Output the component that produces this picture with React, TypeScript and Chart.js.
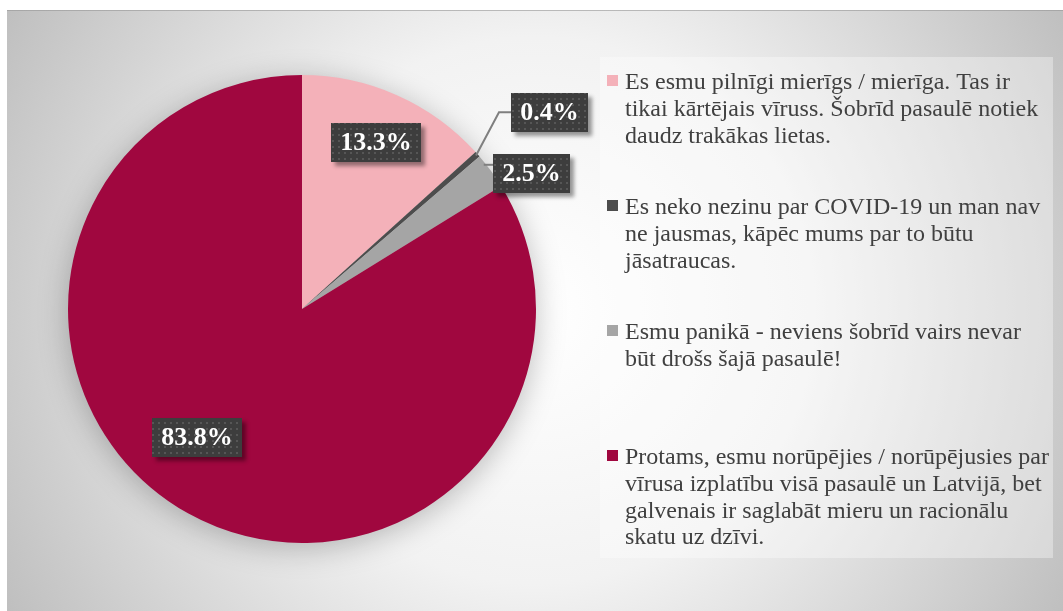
import React, { useEffect, useRef } from "react";
import { Chart, registerables } from "chart.js";

Chart.register(...registerables);

// ---- data ----
const categories: string[][] = [
  ["Es esmu pilnīgi mierīgs / mierīga. Tas ir", "tikai kārtējais vīruss. Šobrīd pasaulē notiek", "daudz trakākas lietas."],
  ["Es neko nezinu par COVID-19 un man nav", "ne jausmas, kāpēc mums par to būtu", "jāsatraucas."],
  ["Esmu panikā - neviens šobrīd vairs nevar", "būt drošs šajā pasaulē!"],
  ["Protams, esmu norūpējies / norūpējusies par", "vīrusa izplatību visā pasaulē un Latvijā, bet", "galvenais ir saglabāt mieru un racionālu", "skatu uz dzīvi."],
];
const values: number[] = [13.3, 0.4, 2.5, 83.8];
const valueLabels: string[] = ["13.3%", "0.4%", "2.5%", "83.8%"];

// ---- styles ----
const sliceColors = ["#F4B1B9", "#4D4D4D", "#A5A5A5", "#A0073F"];
const SERIF = "'Liberation Serif', 'Times New Roman', serif";

type Placement =
  | { mode: "inside"; frac: number; angleShift: number }
  | { mode: "outside"; dx: number; dy: number; anchorFrac: number; elbow: boolean };

const labelPlacement: Placement[] = [
  { mode: "inside", frac: 0.78, angleShift: 0 },
  { mode: "outside", dx: 72, dy: -42, anchorFrac: 0.5, elbow: true },
  { mode: "outside", dx: 41, dy: 3, anchorFrac: 0.25, elbow: false },
  { mode: "inside", frac: 0.71, angleShift: 10 },
];

const legendLayout = {
  box: { x: 600, y: 57, w: 453, h: 501 },
  firstBaseline: 89,
  itemStep: 125,
  lineHeight: 26.8,
  textX: 625,
  markerX: 607,
  markerSize: 11,
  fontSize: 24,
};

const bgRect = { x: 7, y: 10 };

function makePattern(ctx: CanvasRenderingContext2D): CanvasPattern | string {
  const c = document.createElement("canvas");
  c.width = 6;
  c.height = 6;
  const p = c.getContext("2d");
  if (!p) return "#3f3f3f";
  p.fillStyle = "#3d3d3d";
  p.fillRect(0, 0, 6, 6);
  p.fillStyle = "#565656";
  p.fillRect(2, 2, 2, 2);
  return ctx.createPattern(c, "repeat") || "#3f3f3f";
}

const backgroundPlugin = {
  id: "bgGradient",
  beforeDraw(chart: any) {
    const { ctx, width, height } = chart;
    ctx.save();
    ctx.fillStyle = "#ffffff";
    ctx.fillRect(0, 0, width, height);
    const x0 = bgRect.x;
    const y0 = bgRect.y;
    const w = width - x0;
    const h = height - y0;
    const cx = x0 + w / 2;
    const cy = y0 + h / 2;
    const r = Math.sqrt((w / 2) ** 2 + (h / 2) ** 2);
    const g = ctx.createRadialGradient(cx, cy, 0, cx, cy, r);
    g.addColorStop(0, "#ffffff");
    g.addColorStop(0.45, "#f2f2f2");
    g.addColorStop(1, "#bfbfbf");
    ctx.fillStyle = g;
    ctx.fillRect(x0, y0, w, h);
    ctx.fillStyle = "rgba(150,150,150,0.6)";
    ctx.fillRect(x0, y0, w, 1);
    ctx.restore();
  },
};

const pieShadowPlugin = {
  id: "pieShadow",
  beforeDatasetsDraw(chart: any) {
    const meta = chart.getDatasetMeta(0);
    const arc = meta.data[0];
    if (!arc) return;
    const { x, y, outerRadius } = arc.getProps(["x", "y", "outerRadius"], true);
    const ctx = chart.ctx;
    const off = 10000;
    ctx.save();
    ctx.shadowColor = "rgba(0,0,0,0.25)";
    ctx.shadowBlur = 30;
    ctx.shadowOffsetX = off;
    ctx.shadowOffsetY = 5;
    ctx.fillStyle = "#000";
    ctx.beginPath();
    ctx.arc(x - off, y, outerRadius, 0, Math.PI * 2);
    ctx.fill();
    ctx.restore();
  },
};

const valueLabelPlugin = {
  id: "valueLabels",
  afterDatasetsDraw(chart: any) {
    const ctx: CanvasRenderingContext2D = chart.ctx;
    const meta = chart.getDatasetMeta(0);
    const pattern = makePattern(ctx);
    meta.data.forEach((arc: any, i: number) => {
      const { x, y, startAngle, endAngle, outerRadius } = arc.getProps(
        ["x", "y", "startAngle", "endAngle", "outerRadius"],
        true
      );
      const text = valueLabels[i];
      const pl = labelPlacement[i];
      ctx.save();
      ctx.font = `bold 26px ${SERIF}`;
      const tw = ctx.measureText(text).width;
      const bw = Math.round(tw + 18);
      const bh = 39;
      let cx: number;
      let cy: number;
      if (pl.mode === "inside") {
        const a = (startAngle + endAngle) / 2 + (pl.angleShift * Math.PI) / 180;
        cx = x + Math.cos(a) * outerRadius * pl.frac;
        cy = y + Math.sin(a) * outerRadius * pl.frac;
      } else {
        const mid = (startAngle + endAngle) / 2;
        const ex = x + Math.cos(mid) * outerRadius;
        const ey = y + Math.sin(mid) * outerRadius;
        cx = ex + pl.dx;
        cy = ey + pl.dy;
        const aa = startAngle + (endAngle - startAngle) * pl.anchorFrac;
        const ax = x + Math.cos(aa) * (outerRadius - 2);
        const ay = y + Math.sin(aa) * (outerRadius - 2);
        const boxLeft = Math.round(cx - bw / 2);
        ctx.strokeStyle = "#7f7f7f";
        ctx.lineWidth = 2;
        ctx.beginPath();
        ctx.moveTo(ax, ay);
        if (pl.elbow) {
          ctx.lineTo(boxLeft - 12, cy);
          ctx.lineTo(boxLeft, cy);
        } else {
          ctx.lineTo(boxLeft, ay);
        }
        ctx.stroke();
      }
      const bx = Math.round(cx - bw / 2);
      const by = Math.round(cy - bh / 2);
      ctx.save();
      ctx.shadowColor = "rgba(0,0,0,0.4)";
      ctx.shadowBlur = 4;
      ctx.shadowOffsetX = 4;
      ctx.shadowOffsetY = 4;
      ctx.fillStyle = "#3d3d3d";
      ctx.fillRect(bx, by, bw, bh);
      ctx.restore();
      ctx.fillStyle = pattern as any;
      ctx.fillRect(bx, by, bw, bh);
      ctx.fillStyle = "#ffffff";
      ctx.textAlign = "center";
      ctx.textBaseline = "middle";
      ctx.fillText(text, bx + bw / 2, by + bh / 2 + 1);
      ctx.restore();
    });
  },
};

const legendPlugin = {
  id: "wrapLegend",
  afterDraw(chart: any) {
    const ctx: CanvasRenderingContext2D = chart.ctx;
    const L = legendLayout;
    ctx.save();
    ctx.fillStyle = "rgba(255,255,255,0.35)";
    ctx.fillRect(L.box.x, L.box.y, L.box.w, L.box.h);
    ctx.font = `${L.fontSize}px ${SERIF}`;
    ctx.textAlign = "left";
    ctx.textBaseline = "alphabetic";
    categories.forEach((lines, i) => {
      const base = L.firstBaseline + i * L.itemStep;
      ctx.fillStyle = sliceColors[i];
      ctx.fillRect(L.markerX, base - 14, L.markerSize, L.markerSize);
      ctx.fillStyle = "#404040";
      lines.forEach((ln, j) => {
        ctx.fillText(ln, L.textX, base + j * L.lineHeight);
      });
    });
    ctx.restore();
  },
};

export default function App() {
  const canvasRef = useRef<HTMLCanvasElement | null>(null);

  useEffect(() => {
    const canvas = canvasRef.current;
    if (!canvas) return;
    const chart = new Chart(canvas, {
      type: "pie",
      data: {
        labels: categories.map((c) => c.join(" ")),
        datasets: [
          {
            data: values,
            backgroundColor: sliceColors,
            borderWidth: 0,
          },
        ],
      },
      options: {
        responsive: false,
        animation: false,
        devicePixelRatio: 1,
        layout: { padding: { left: 68, top: 75, right: 527, bottom: 68 } },
        plugins: {
          legend: { display: false },
          tooltip: { enabled: false },
        },
      },
      plugins: [backgroundPlugin, pieShadowPlugin, valueLabelPlugin, legendPlugin],
    });
    return () => chart.destroy();
  }, []);

  return (
    <div style={{ position: "absolute", left: 0, top: 0, width: 1063, height: 611 }}>
      <canvas ref={canvasRef} width={1063} height={611} style={{ display: "block" }} />
    </div>
  );
}
